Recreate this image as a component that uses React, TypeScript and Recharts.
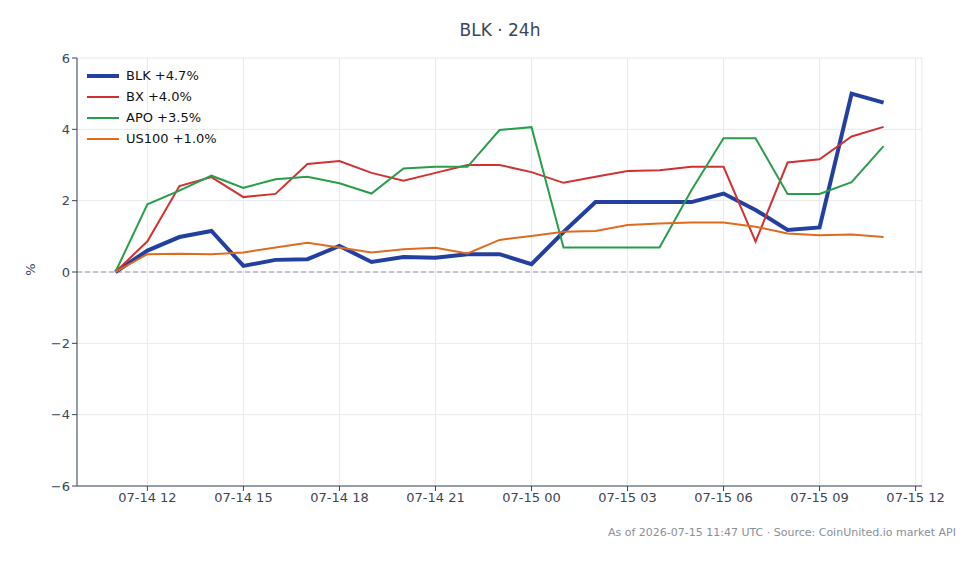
import React from 'react';
import { LineChart, Line, XAxis, YAxis, CartesianGrid, ReferenceLine } from 'recharts';

// hourly points, 07-14 11:00 UTC .. 07-15 11:00 UTC (hour offset from start)
const hours = [0, 1, 2, 3, 4, 5, 6, 7, 8, 9, 10, 11, 12, 13, 14, 15, 16, 17, 18, 19, 20, 21, 22, 23, 24];

const blk = [0, 0.6, 0.98, 1.15, 0.17, 0.34, 0.36, 0.73, 0.28, 0.42, 0.4, 0.5, 0.5, 0.22, 1.12, 1.96, 1.96, 1.96, 1.96, 2.2, 1.74, 1.18, 1.25, 5.0, 4.75];
const bx = [0, 0.86, 2.41, 2.66, 2.1, 2.19, 3.03, 3.11, 2.78, 2.56, 2.78, 3.0, 3.0, 2.8, 2.5, 2.67, 2.83, 2.85, 2.95, 2.95, 0.85, 3.07, 3.16, 3.8, 4.07];
const apo = [0, 1.9, 2.28, 2.7, 2.36, 2.6, 2.67, 2.49, 2.2, 2.9, 2.95, 2.95, 3.98, 4.06, 0.69, 0.69, 0.69, 0.69, 2.3, 3.75, 3.75, 2.19, 2.19, 2.52, 3.53];
const us100 = [0, 0.5, 0.51, 0.5, 0.55, 0.69, 0.82, 0.69, 0.55, 0.64, 0.68, 0.52, 0.9, 1.01, 1.13, 1.15, 1.32, 1.36, 1.39, 1.39, 1.27, 1.08, 1.03, 1.05, 0.98];

const xTicks = [1, 4, 7, 10, 13, 16, 19, 22, 25];
const xTickLabels = ['07-14 12', '07-14 15', '07-14 18', '07-14 21', '07-15 00', '07-15 03', '07-15 06', '07-15 09', '07-15 12'];
const yTicks = [-6, -4, -2, 0, 2, 4, 6];

const seriesKeys = ['blk', 'bx', 'apo', 'us100'];
const seriesNames = ['BLK +4.7%', 'BX +4.0%', 'APO +3.5%', 'US100 +1.0%'];
const seriesColors = ['#2340a0', '#d03232', '#2a9d4a', '#e06b1f'];
const seriesWidths = [4, 2, 2, 2];

const data = hours.map((h, i) => ({ t: h, blk: blk[i], bx: bx[i], apo: apo[i], us100: us100[i] }));

const font = 'DejaVu Sans, sans-serif';
const textColor = '#3b4656';

const App: React.FC = () => {
  return (
    <div style={{ position: 'absolute', left: 0, top: 0, width: 980, height: 564, background: '#fff', fontFamily: font }}>
      <div style={{ position: 'absolute', top: 20, left: 0, width: 1000, textAlign: 'center', fontSize: 17, color: textColor }}>
        BLK · 24h
      </div>
      <div style={{ position: 'absolute', top: 262, left: 24, fontSize: 13, color: textColor, transform: 'rotate(-90deg)' }}>%</div>
      <LineChart width={980} height={564} data={data} margin={{ top: 58, right: 58, bottom: 48, left: 20 }}>
        <CartesianGrid stroke="#e6e9ee" />
        <XAxis
          dataKey="t"
          type="number"
          domain={[-1.2, 25.2]}
          ticks={xTicks}
          tickFormatter={(v: number) => xTickLabels[xTicks.indexOf(v)]}
          height={30}
          stroke={textColor}
          tick={{ fill: textColor, fontSize: 13 }}
          tickSize={5}
        />
        <YAxis
          type="number"
          domain={[-6, 6]}
          ticks={yTicks}
          tickFormatter={(v: number) => (v < 0 ? `\u2212${-v}` : `${v}`)}
          width={57}
          stroke={textColor}
          tick={{ fill: textColor, fontSize: 13 }}
          tickSize={5}
        />
        <ReferenceLine y={0} stroke="#8a9ab0" strokeDasharray="5 3" strokeWidth={1.2} />
        {seriesKeys.map((k, i) => (
          <Line
            key={k}
            dataKey={k}
            name={seriesNames[i]}
            stroke={seriesColors[i]}
            strokeWidth={seriesWidths[i]}
            dot={false}
            type="linear"
            isAnimationActive={false}
          />
        ))}
      </LineChart>
      <div style={{ position: 'absolute', top: 65, left: 87, fontSize: 13, color: '#111' }}>
        {seriesNames.map((name, i) => (
          <div key={name} style={{ display: 'flex', alignItems: 'center', height: 21 }}>
            <div style={{ width: 32, height: seriesWidths[i], background: seriesColors[i], marginRight: 7 }} />
            <span>{name}</span>
          </div>
        ))}
      </div>
      <div style={{ position: 'absolute', top: 526, right: 24, fontSize: 11, color: '#8a8f98' }}>
        As of 2026-07-15 11:47 UTC · Source: CoinUnited.io market API
      </div>
    </div>
  );
};

export default App;
